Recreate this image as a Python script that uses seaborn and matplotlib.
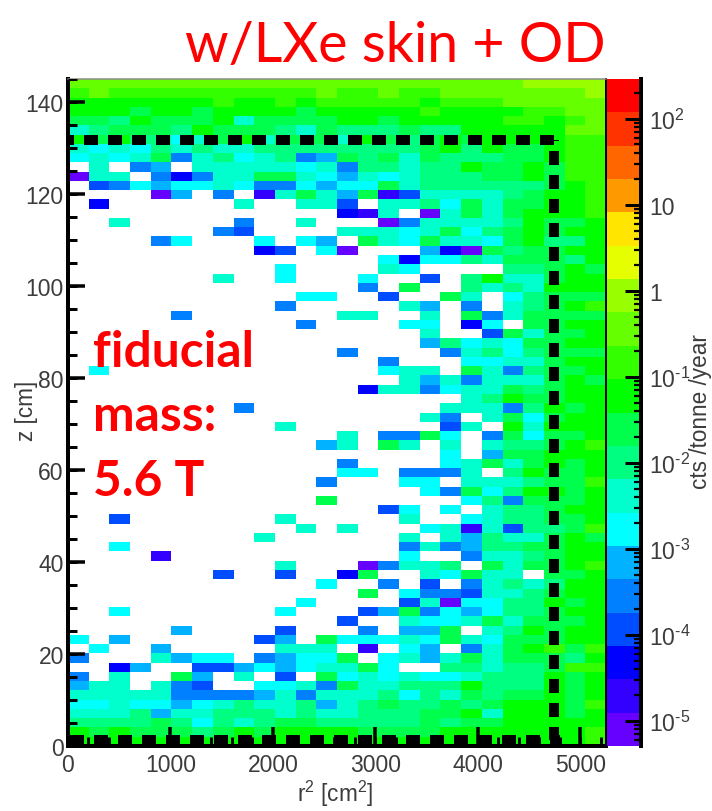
import numpy as np
import pandas as pd
import seaborn as sns
import matplotlib
matplotlib.use("Agg")
import matplotlib.pyplot as plt
from matplotlib.colors import ListedColormap, LogNorm

# ---------- data ----------
# One string per z bin (top to bottom), one letter per r^2 bin; '.' = empty bin.
# A letter is the colour-scale band the bin falls in, 'a' is the lowest band.
band_rows = [
    "mmmmmmmmmmmmm mmmmmmmmmnnnn",
    "lmllllllllllm llmllmmmmmmmn",
    "kkkkkkklkklkl llllklllmmmmm",
    "kkkjkkjkkkkjk kkkklkkkkllmm",
    "jjikjjjkhjjjj kkjkkkkkllklm",
    "hijjjikjjjihj iiijiikkkkkmm",
    "kjkiighjkhjjj hkjijkjkkkkll",
    "hghgihihhiiii iiiijkikjjkll",
    "ghghjehighief jijhjiiijjkll",
    ".h.ef.hhhhhgh eiihiikjjkjll",
    "ahh.ecehhjjhg fhghiiijjkjll",
    ".degfgghgeegf ggjhiiiiiijkl",
    "....af.e.bhjh fjbdhhhhijkkl",
    ".c......h..hh d.hhigjhjjkkl",
    "............. cbh.ahjhjkkkl",
    "..h.....e..h. ..aehhhhikjjk",
    ".......ed.... hhhghjgijkjkk",
    "....eg...g.gf .jhgjhhgjkiik",
    ".........cd.g a...fcajijjkk",
    "............. ..gcggihjjjik",
    "..........g.. ..hg....iijkj",
    ".......h..g.. .g..d.ikhhjkk",
    "............. .e.j..ihihkkk",
    "...........gg ..d..jh.gijjj",
    "..........e.. ...hf.e.hijkl",
    ".....e....... hh..h.jehjjjj",
    "...........e. ...gg.cg.jjkk",
    "............. ....h..djhjjk",
    "............. ....fighgjjkk",
    "............. e....ehigijjj",
    "............. ..e...gghhjkk",
    ".g........... ..ghh.jheijjk",
    "............. ...hfhehhhjkj",
    "............. .chheghhjijkk",
    "............. ......hikjjkk",
    "........e.... .....hhheikjk",
    "............. ....he.hjgjkk",
    "..........h.. .....dh.khkkk",
    "............. h.eejg.ejgjjk",
    "............f h.jh.h.hiijkl",
    "............. .....g.fjjkkk",
    "............. e....ghjhjkjk",
    "............. gg.eeeh.ikjjk",
    "............e ...gg.hhhijjl",
    "............. ....gejgikkjk",
    "............j ......giejjjk",
    "............. ..dg.g.hiijkk",
    "..d.......h.. ...h..ghiijjk",
    "...........h. h...ghbhdiijl",
    ".........h... ...h.hfihhjkj",
    "..g.......... ...ehefiijjkk",
    "....b........ ...g..ehhijkk",
    "..........h.. .aehhi.jhjjkl",
    ".......d..d.. cj..hgjhh.jjk",
    "............g ..e.d.ehihikk",
    "............. .j.geedhhijkk",
    "...........g. ...dhaggiikjk",
    "..g.......g.. .dfjegfgiijkk",
    "............. d..hgghjhjjjk",
    ".....f....d.. .e.ffj.hikjkk",
    "g.f......df.j ggghgjhgjjjkk",
    ".g..f.....hhh .b.gf.ehjkljl",
    "e...hfgg.efgg j.ghfhjhjjjik",
    "..cf..ddfgfgh hjg..iihiijll",
    "e.h..jf.h.d.j ghghgghiiikjk",
    "fhh.hed..gghe jhhiiikiiikjk",
    "hhhhheeeefheh hhigihjijjkjk",
    "gghggfghihhif hijiijijkkkjl",
    "hhhifhhiiihih hiiijjkhkkkjk",
    "iiiijigihijji iiiijijjkkkkk",
    "kjkjjjijkjkkk kjjjjkkkkkkkl",
    "kkkkkkkkkkkkk kkkkkkkkkkkkl",
]
band_colors = [
    "#6600ff", "#3300ff", "#0000ff", "#004cff", "#0080ff", "#00b2ff", "#00ffff",
    "#00ffcc", "#00ff80", "#00ff4c", "#00ff00", "#33ff00", "#66ff00", "#99ff00",
    "#e5ff00", "#ffe500", "#ff9900", "#ff6600", "#ff3300", "#ff0000",
]
log_min, log_max = -5.29, 2.46
r2_max, z_max = 5250.0, 145.0
r2_major = [0, 1000, 2000, 3000, 4000, 5000]
z_major = [0, 20, 40, 60, 80, 100, 120, 140]
cbar_exponents = [2, 1, 0, -1, -2, -3, -4, -5]
cbar_labels = [r"$\mathregular{10^{2}}$", "10", "1", r"$10^{\text{-}1}$",
               r"$10^{\text{-}2}$", r"$10^{\text{-}3}$",
               r"$10^{\text{-}4}$", r"$10^{\text{-}5}$"]
fid_r2, fid_z_top, fid_z_bottom = 4741.0, 131.8, 1.2

# ---------- build ----------
W, H = 712, 812
PX = 72 / 100
sns.set_theme(style="white")
plt.rcParams["font.family"] = ["Liberation Sans", "DejaVu Sans"]
plt.rcParams["mathtext.fontset"] = "custom"
plt.rcParams["mathtext.rm"] = "Liberation Sans"
plt.rcParams["mathtext.default"] = "regular"
GREY = "#3c3c3c"
TICK_FS = 16.5
LABEL_FS = 16.3

step = (log_max - log_min) / len(band_colors)
def band_value(ch):
    if ch == ".":
        return np.nan
    return 10 ** (log_min + (ord(ch) - ord("a") + 0.5) * step)

rows = [r.replace(" ", "") for r in band_rows]
assert all(len(r) == 26 for r in rows) and len(rows) == 72
n_r, n_c = len(rows), len(rows[0])
frame = pd.DataFrame([[band_value(c) for c in r] for r in rows])

def axes_box(l, t, r, b):
    return [l / W, 1 - b / H, (r - l) / W, (b - t) / H]

fig = plt.figure(figsize=(W / 100, H / 100), dpi=100, facecolor="white")
ax = fig.add_axes(axes_box(68, 80, 606, 747))
cax = fig.add_axes(axes_box(607, 80, 641, 747))

sns.heatmap(frame, ax=ax, cbar_ax=cax, cmap=ListedColormap(band_colors),
            norm=LogNorm(10 ** log_min, 10 ** log_max), xticklabels=False,
            yticklabels=False, linewidths=0)

to_x = lambda r2: np.asarray(r2, float) / r2_max * n_c
to_y = lambda z: (z_max - np.asarray(z, float)) / z_max * n_r

ax.set_xticks(to_x(r2_major))
ax.set_xticklabels([str(v) for v in r2_major])
ax.set_yticks(to_y(z_major))
ax.set_yticklabels([str(v) for v in z_major])
ax.tick_params(axis="x", which="major", length=0, labelsize=TICK_FS, labelcolor=GREY,
               pad=5, rotation=0)
ax.tick_params(axis="y", which="major", length=0, labelsize=TICK_FS, labelcolor=GREY,
               pad=3, rotation=0)
for name, w, c in [("left", 4, "black"), ("bottom", 4, "black"),
                   ("right", 2, "black"), ("top", 1.5, "#8a8a8a")]:
    ax.spines[name].set_visible(True)
    ax.spines[name].set_linewidth(w * PX)
    ax.spines[name].set_color(c)

# inward tick marks, drawn above the cells
x_frac = lambda px: px / 538
y_frac = lambda px: px / 667
tick_kw = dict(colors="black", zorder=10)
ax.vlines(to_x(r2_major), 0, y_frac(19), transform=ax.get_xaxis_transform(),
          linewidths=3.5 * PX, **tick_kw)
ax.vlines(to_x(np.arange(0, 5201, 200)), 0, y_frac(9), transform=ax.get_xaxis_transform(),
          linewidths=3 * PX, **tick_kw)
ax.hlines(to_y(z_major), 0, x_frac(17), transform=ax.get_yaxis_transform(),
          linewidths=3.5 * PX, **tick_kw)
ax.hlines(to_y(np.arange(0, 146, 5)), 0, x_frac(9), transform=ax.get_yaxis_transform(),
          linewidths=3 * PX, **tick_kw)

# fiducial box
lw = 10 * PX
dash = lambda off: (off, (1.4, 1.0))
line_kw = dict(color="black", lw=lw, dash_capstyle="butt", clip_on=True, zorder=3)
ax.plot(to_x([0, fid_r2 + 60]), to_y([fid_z_top, fid_z_top]), ls=dash(0.8), **line_kw)
ax.plot(to_x([fid_r2, fid_r2]), to_y([fid_z_top, fid_z_bottom]), ls=dash(1.3), **line_kw)
ax.plot(to_x([0, fid_r2 + 60]), to_y([fid_z_bottom, fid_z_bottom]), ls=dash(2.2), **line_kw)
ax.set_xlim(0, n_c)
ax.set_ylim(n_r, 0)

# colour bar
cb = ax.collections[0].colorbar
cb.outline.set_visible(False)
major_vals = [10.0 ** e for e in cbar_exponents]
cb.set_ticks(major_vals, labels=cbar_labels)
minors = [m * 10.0 ** e for e in range(-6, 3) for m in range(2, 10)
          if log_min <= np.log10(m * 10.0 ** e) <= log_max]
cax.yaxis.set_ticks([], minor=True)
cax.tick_params(axis="y", which="major", length=0, labelsize=TICK_FS, labelcolor=GREY,
                pad=6, right=False, left=False)
c_lim = cax.get_ylim()
cax.hlines(major_vals, 1 - 16 / 34, 1, transform=cax.get_yaxis_transform(),
           linewidths=3 * PX, **tick_kw)
cax.hlines(minors, 1 - 7 / 34, 1, transform=cax.get_yaxis_transform(),
           linewidths=2.2 * PX, **tick_kw)
cax.set_ylim(c_lim)
cax.spines["right"].set_visible(True)
cax.spines["right"].set_color("black")
cax.spines["right"].set_linewidth(4 * PX)

def px_text(x, y, s, **kw):
    return fig.text(x / W, 1 - y / H, s, **kw)

px_text(335, 794, r"r$^{2}$ [cm$^{2}$]", ha="center", va="center", fontsize=LABEL_FS, color=GREY)
px_text(27, 411, "z [cm]", ha="center", va="center", rotation=90, fontsize=LABEL_FS, color=GREY)
px_text(700, 412, "cts /tonne /year", ha="center", va="center", rotation=90, fontsize=LABEL_FS, color=GREY)

title_font = ["Lato", "DejaVu Sans"]
px_text(395, 62, "w/LXe skin + OD", ha="center", va="baseline", fontsize=40,
        color="#ff0000", family=title_font)
for x, y, s in [(93, 367, "fiducial"), (93, 431, "mass:"), (93, 496, "5.6 T")]:
    px_text(x, y, s, ha="left", va="baseline", fontsize=35.8, fontweight="bold",
            color="#ff0000", family=title_font)

fig.savefig("out.png", dpi=100, facecolor="white")
